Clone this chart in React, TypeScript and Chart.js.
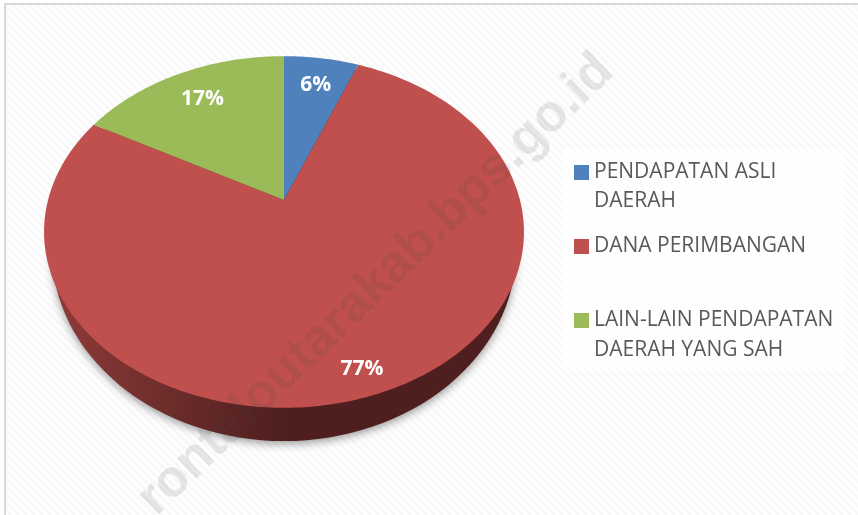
import React, { useEffect, useRef } from "react";
import { Chart, ArcElement, PieController, registerables } from "chart.js";

const categories = ["PENDAPATAN ASLI DAERAH", "DANA PERIMBANGAN", "LAIN-LAIN PENDAPATAN DAERAH YANG SAH"];
const legendLines = [["PENDAPATAN ASLI", "DAERAH"], ["DANA PERIMBANGAN"], ["LAIN-LAIN PENDAPATAN", "DAERAH YANG SAH"]];
const values = [6, 77, 17];
const sliceColors = ["#4f81bd", "#c0504d", "#9bbb59"];
const legendColors = ["#4f81bd", "#c0504d", "#9bbb59"];
const labelRadii = [0.79, 0.89, 0.78];
const labelNudge = [[1, 1], [-6, 1], [2, 1]];
const watermark = "rontaloutarakab.bps.go.id";

const PERSPECTIVE = 0.1818;
const X_STRETCH = 1.388;

function project(x: number, y: number, r: number, a: number, f = 1) {
  const c = Math.cos(a) * f;
  const s = Math.sin(a) * f;
  const den = 1 - PERSPECTIVE * s;
  return { x: x + (r * X_STRETCH * c) / den, y: y + (r * s) / den };
}

class PerspectiveArc extends ArcElement {
  static id = "perspectiveArc";
  draw(ctx: CanvasRenderingContext2D) {
    const { x, y, startAngle, endAngle, outerRadius } = (this as any).getProps(["x", "y", "startAngle", "endAngle", "outerRadius"]);
    ctx.save();
    ctx.beginPath();
    ctx.moveTo(x, y);
    const steps = Math.max(8, Math.ceil((endAngle - startAngle) * 60));
    for (let i = 0; i <= steps; i++) {
      const p = project(x, y, outerRadius, startAngle + ((endAngle - startAngle) * i) / steps);
      ctx.lineTo(p.x, p.y);
    }
    ctx.closePath();
    ctx.fillStyle = (this as any).options.backgroundColor;
    ctx.fill();
    ctx.restore();
  }
}

class PerspectivePie extends PieController {
  static id = "perspectivePie";
  static defaults = { ...PieController.defaults, dataElementType: "perspectiveArc" };
  static overrides = PieController.overrides;
}

Chart.register(...registerables, PerspectiveArc, PerspectivePie);

function stripes(ctx: CanvasRenderingContext2D) {
  const t = document.createElement("canvas");
  t.width = 8;
  t.height = 8;
  const g = t.getContext("2d")!;
  g.fillStyle = "#ffffff";
  g.fillRect(0, 0, 8, 8);
  g.strokeStyle = "#f8f8f8";
  g.lineWidth = 3;
  for (const o of [-8, 0, 8]) {
    g.beginPath();
    g.moveTo(o - 2, -2);
    g.lineTo(o + 10, 10);
    g.stroke();
  }
  return ctx.createPattern(t, "repeat")!;
}

const backdropPlugin = {
  id: "backdrop",
  beforeDraw(chart: any) {
    const { ctx, width, height } = chart;
    ctx.save();
    ctx.fillStyle = "#ffffff";
    ctx.fillRect(0, 0, width, height);
    ctx.fillStyle = stripes(ctx);
    ctx.fillRect(5, 4, width - 5, height - 4);
    ctx.strokeStyle = "#d9d9d9";
    ctx.lineWidth = 2;
    ctx.beginPath();
    ctx.moveTo(5, height);
    ctx.lineTo(5, 4);
    ctx.lineTo(width, 4);
    ctx.stroke();
    ctx.restore();
  },
  beforeDatasetsDraw(chart: any) {
    const { ctx } = chart;
    const arc = chart.getDatasetMeta(0).data[0];
    const { x, y, outerRadius: r } = arc;
    const cx = x;
    const cy = y + r * 0.30;
    const grad = ctx.createLinearGradient(cx - r * 1.36, 0, cx, 0);
    grad.addColorStop(0, "#8f3b39");
    grad.addColorStop(0.45, "#6f2e2c");
    grad.addColorStop(1, "#4e1f1e");
    ctx.save();
    ctx.shadowColor = "rgba(0,0,0,0.38)";
    ctx.shadowBlur = 9;
    ctx.shadowOffsetY = 3;
    ctx.fillStyle = grad;
    ctx.beginPath();
    ctx.ellipse(cx, cy, r * 1.365, r * 1.118, 0, 0, Math.PI * 2);
    ctx.fill();
    ctx.restore();
  },
  afterDatasetsDraw(chart: any) {
    const { ctx } = chart;
    const meta = chart.getDatasetMeta(0);
    const total = values.reduce((a, b) => a + b, 0);
    ctx.save();
    ctx.fillStyle = "#ffffff";
    ctx.font = "bold 21px 'Open Sans'";
    ctx.textAlign = "center";
    ctx.textBaseline = "middle";
    meta.data.forEach((arc: any, i: number) => {
      const mid = (arc.startAngle + arc.endAngle) / 2;
      const p = project(arc.x, arc.y, arc.outerRadius, mid, labelRadii[i]);
      ctx.fillText(`${Math.round((values[i] / total) * 100)}%`, p.x + labelNudge[i][0], p.y + labelNudge[i][1]);
    });
    ctx.restore();

    ctx.save();
    ctx.translate(376, 285);
    ctx.rotate((-44 * Math.PI) / 180);
    ctx.font = "bold 52px 'Liberation Sans'";
    ctx.textAlign = "center";
    ctx.textBaseline = "middle";
    ctx.fillStyle = "rgba(70,70,70,0.13)";
    ctx.fillText(watermark, 0, 0);
    ctx.restore();

    ctx.save();
    ctx.fillStyle = "rgba(255,255,255,0.75)";
    ctx.fillRect(562, 149, 283, 223);
    const rows = [
      { swatch: 165, lines: [172, 201] },
      { swatch: 239, lines: [246] },
      { swatch: 313, lines: [320, 350] },
    ];
    ctx.font = "21px 'Open Sans'";
    ctx.textBaseline = "middle";
    ctx.textAlign = "left";
    rows.forEach((row, i) => {
      ctx.fillStyle = legendColors[i];
      ctx.fillRect(574, row.swatch, 15, 15);
      ctx.fillStyle = "#595959";
      legendLines[i].forEach((t, j) => ctx.fillText(t, 594, row.lines[j]));
    });
    ctx.restore();
  },
};

export default function App() {
  const ref = useRef<HTMLCanvasElement>(null);
  useEffect(() => {
    document.body.style.margin = "0";
    const chart = new Chart(ref.current!, {
      type: "perspectivePie" as any,
      data: {
        labels: categories,
        datasets: [{ data: values, backgroundColor: sliceColors, borderWidth: 0 }],
      },
      options: {
        responsive: false,
        animation: false,
        layout: { padding: { left: 114, right: 404, top: 30, bottom: 145 } },
        plugins: { legend: { display: false }, tooltip: { enabled: false } },
      } as any,
      plugins: [backdropPlugin as any],
    });
    return () => chart.destroy();
  }, []);
  return <canvas ref={ref} width={858} height={515} style={{ display: "block" }} />;
}
